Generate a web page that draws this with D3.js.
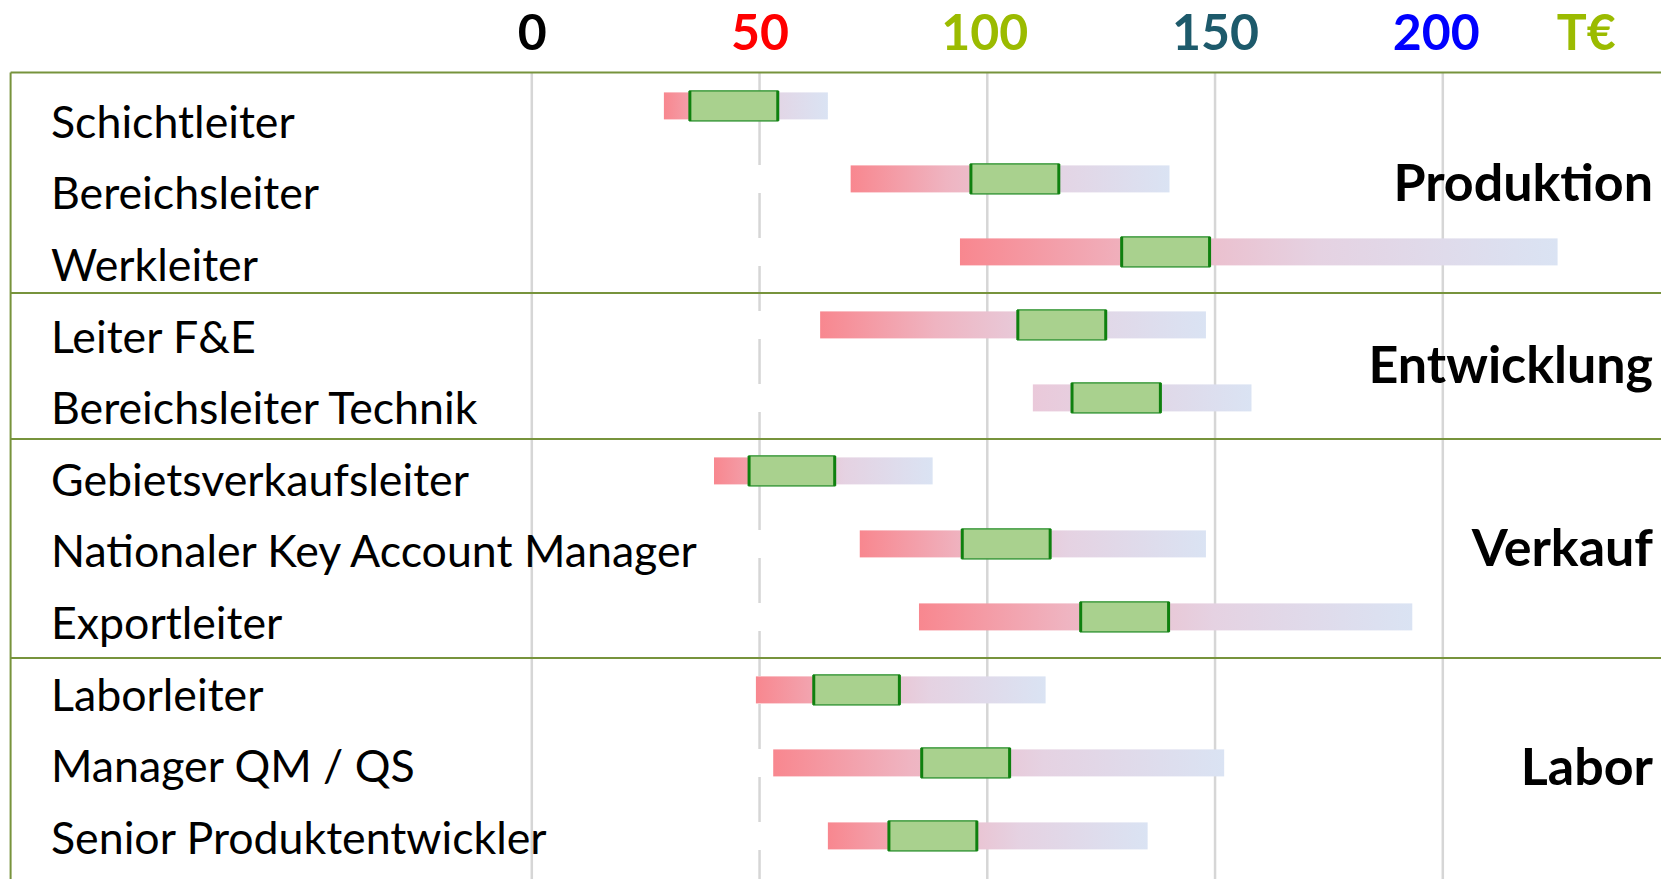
<!DOCTYPE html>
<html>
<head>
<meta charset="utf-8">
<script src="https://cdn.jsdelivr.net/npm/d3@7"></script>
<style>
  body { margin: 0; background: #fff; }
  svg { display: block; }
</style>
</head>
<body>
<svg></svg>
<script>
// Salary ranges per position, in T€
const positions = ['Schichtleiter', 'Bereichsleiter', 'Werkleiter', 'Leiter F&E', 'Bereichsleiter Technik',
    'Gebietsverkaufsleiter', 'Nationaler Key Account Manager', 'Exportleiter',
    'Laborleiter', 'Manager QM / QS', 'Senior Produktentwickler']
const groups = ['Produktion', 'Entwicklung', 'Verkauf', 'Labor']
const groupSizes = [3, 2, 3, 3]
const minPay = [29, 70, 94, 63.3, 110, 40, 72, 85, 49.2, 53, 65]
const lowPay = [34.7, 96.4, 129.5, 106.7, 118.6, 47.7, 94.5, 120.5, 61.9, 85.6, 78.4]
const highPay = [54, 115.7, 148.8, 126, 138, 66.5, 113.8, 139.8, 80.7, 104.9, 97.7]
const maxPay = [65, 140, 225.2, 148, 158, 88, 148, 193.3, 112.8, 152, 135.2]
const tickValues = [0, 50, 100, 150, 200]
const unitLabel = 'T€'
const unitPos = 231.5

let width = 1661
let height = 879
let svg = d3.select('svg').attr('width', width).attr('height', height)

let values = positions.map((p, i) => ({
    name: p, min: minPay[i], low: lowPay[i], high: highPay[i], max: maxPay[i]
}))

// group index for each row
let groupOf = []
groupSizes.forEach((n, g) => { for (let k = 0; k < n; k++) groupOf.push(g) })

// Scales
let xScale = d3.scaleLinear().domain([0, 200]).range([531.8, 1442.8])
let yScale = d3.scaleBand().domain(positions).range([69.4, 69.4 + 73 * positions.length])
let labelY = d3.scalePoint().domain(positions).range([137.7, 853.8])
let rowMid = (name) => yScale(name) + yScale.bandwidth() / 2

// Gradients for the ranges
let defs = svg.append('defs')
let makeGrad = (id, stops) => {
    let g = defs.append('linearGradient').attr('id', id)
    stops.forEach(s => g.append('stop').attr('offset', s[0]).attr('stop-color', s[1]))
}
makeGrad('fade', [['0%', '#f8878f'], ['30%', '#efb4c1'], ['60%', '#e5d2e2'], ['100%', '#dae3f3']])
makeGrad('fadeLight', [['0%', '#eac9da'], ['50%', '#e1d6e6'], ['100%', '#dae3f3']])

// Gridlines
let grid = svg.append('g')
grid.selectAll('line')
    .data(tickValues)
    .enter()
    .append('line')
    .attr('x1', d => xScale(d))
    .attr('x2', d => xScale(d))
    .attr('y1', 72)
    .attr('y2', height)
    .attr('stroke', '#d6d6d6')
    .attr('stroke-width', 2.5)
    .attr('stroke-dasharray', d => d === 50 ? '45 28' : null)
    .attr('stroke-dashoffset', d => d === 50 ? 25 : null)

// Top axis labels
let tickColors = { 0: '#000000', 50: '#ff0000', 100: '#9bbb00', 150: '#1d5a6b', 200: '#0000ff' }
let xAxis = d3.axisTop(xScale).tickValues(tickValues).tickSize(0).tickFormat(d3.format('d'))
let axisG = svg.append('g')
    .attr('id', 'x-axis')
    .attr('transform', 'translate(0,50)')
    .call(xAxis)
axisG.select('.domain').remove()
axisG.selectAll('text')
    .attr('y', 0)
    .attr('dy', 0)
    .attr('dx', d => d === 200 ? -7 : d === 100 ? -3 : 0)
    .style('font-family', 'Lato, sans-serif')
    .style('font-weight', 'bold')
    .style('font-size', '50px')
    .attr('fill', d => tickColors[d])
svg.append('text')
    .attr('x', xScale(unitPos))
    .attr('y', 50)
    .attr('text-anchor', 'middle')
    .style('font-family', 'Lato, sans-serif')
    .style('font-weight', 'bold')
    .style('font-size', '50px')
    .attr('fill', '#9bbb00')
    .text(unitLabel)

// Frame and group separators
let lineColor = '#77933c'
let sepY = [yScale(positions[0]) + 3]
let start = 0
groupSizes.slice(0, -1).forEach(n => { start += n; sepY.push(yScale(positions[start]) + 4.5) })
svg.append('g').selectAll('line')
    .data(sepY)
    .enter()
    .append('line')
    .attr('x1', 10.6).attr('x2', width)
    .attr('y1', d => d).attr('y2', d => d)
    .attr('stroke', lineColor)
    .attr('stroke-width', 2)
svg.append('line')
    .attr('x1', 10.6).attr('x2', 10.6)
    .attr('y1', sepY[0]).attr('y2', height)
    .attr('stroke', lineColor)
    .attr('stroke-width', 2)

// Range bars
let barH = 27
let boxH = 30
svg.append('g').selectAll('rect')
    .data(values)
    .enter()
    .append('rect')
    .attr('x', d => xScale(d.min))
    .attr('width', d => xScale(d.max) - xScale(d.min))
    .attr('y', d => rowMid(d.name) - barH / 2)
    .attr('height', barH)
    .attr('fill', d => d.name === 'Bereichsleiter Technik' ? 'url(#fadeLight)' : 'url(#fade)')

// Middle boxes
let boxes = svg.append('g')
boxes.selectAll('rect')
    .data(values)
    .enter()
    .append('rect')
    .attr('x', d => xScale(d.low))
    .attr('width', d => xScale(d.high) - xScale(d.low))
    .attr('y', d => rowMid(d.name) - boxH / 2)
    .attr('height', boxH)
    .attr('fill', '#a9d18e')
    .attr('stroke', '#3f9b3f')
    .attr('stroke-width', 1.5)
let edges = []
values.forEach(d => { edges.push([d.low, d.name]); edges.push([d.high, d.name]) })
boxes.selectAll('line')
    .data(edges)
    .enter()
    .append('line')
    .attr('x1', d => xScale(d[0])).attr('x2', d => xScale(d[0]))
    .attr('y1', d => rowMid(d[1]) - boxH / 2)
    .attr('y2', d => rowMid(d[1]) + boxH / 2)
    .attr('stroke', '#0f800f')
    .attr('stroke-width', 3)

// Position labels
svg.append('g').selectAll('text')
    .data(positions)
    .enter()
    .append('text')
    .attr('x', 51)
    .attr('y', d => labelY(d))
    .style('font-family', 'Lato, sans-serif')
    .style('font-size', '44.7px')
    .attr('fill', '#000')
    .text(d => d)

// Group labels
svg.append('g').selectAll('text')
    .data(groups)
    .enter()
    .append('text')
    .attr('x', 1653)
    .attr('y', (g, gi) => {
        let mids = positions.filter((p, i) => groupOf[i] === gi).map(rowMid)
        return d3.mean(mids) + 22
    })
    .attr('text-anchor', 'end')
    .style('font-family', 'Lato, sans-serif')
    .style('font-weight', 'bold')
    .style('font-size', '52px')
    .attr('fill', '#000')
    .text(d => d)
</script>
</body>
</html>
